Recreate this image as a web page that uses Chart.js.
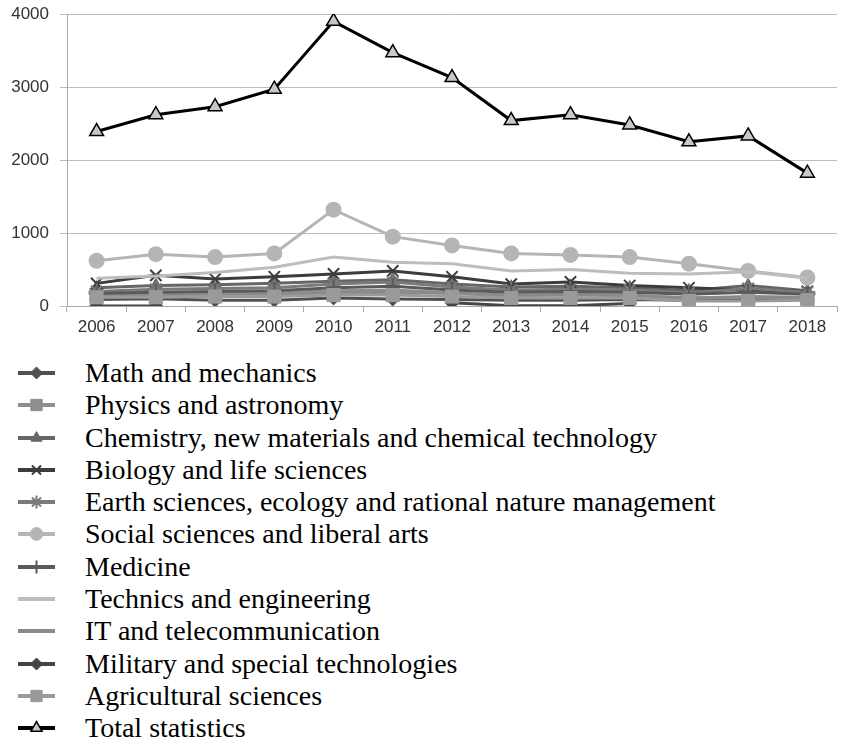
<!DOCTYPE html>
<html>
<head>
<meta charset="utf-8">
<script src="https://cdn.jsdelivr.net/npm/chart.js@4.4.0/dist/chart.umd.min.js"></script>
<style>
	html, body { margin: 0; padding: 0; background: #fff; overflow: hidden; }
	#wrap { position: relative; width: 847px; height: 345px; }
	#legend { position: absolute; left: 0; top: 357px; font-family: "Liberation Serif", serif; font-size: 28px; color: #000; }
	.row { position: relative; height: 32.3px; }
	.row canvas { position: absolute; left: 10px; top: 0; }
	.row span { position: absolute; left: 85px; top: 0; line-height: 32px; white-space: nowrap; }
</style>
</head>
<body>
<div id="wrap"><canvas id="chart"></canvas></div>
<div id="legend"></div>
<script>
const years = ["2006", "2007", "2008", "2009", "2010", "2011", "2012", "2013", "2014", "2015", "2016", "2017", "2018"];
const yTicks = [0, 1000, 2000, 3000, 4000];

const seriesNames = [
	"Math and mechanics",
	"Physics and astronomy",
	"Chemistry, new materials and chemical technology",
	"Biology and life sciences",
	"Earth sciences, ecology and rational nature management",
	"Social sciences and liberal arts",
	"Medicine",
	"Technics and engineering",
	"IT and telecommunication",
	"Military and special technologies",
	"Agricultural sciences",
	"Total statistics",
];

const mathMechanics = [90, 100, 80, 80, 110, 95, 90, 80, 80, 90, 80, 90, 90];
const physicsAstronomy = [150, 160, 170, 180, 210, 220, 180, 150, 160, 150, 110, 120, 110];
const chemistry = [250, 280, 290, 310, 340, 360, 300, 260, 270, 250, 210, 280, 210];
const biology = [310, 420, 370, 400, 440, 480, 400, 300, 330, 280, 250, 220, 200];
const earthSciences = [200, 230, 240, 250, 300, 330, 260, 220, 230, 220, 180, 240, 190];
const socialSciences = [620, 710, 670, 720, 1320, 950, 830, 720, 700, 670, 580, 480, 390];
const medicine = [170, 190, 200, 210, 250, 270, 220, 190, 200, 190, 160, 190, 160];
const technics = [380, 410, 460, 530, 670, 600, 580, 480, 500, 450, 440, 470, 380];
const itTelecom = [130, 140, 150, 150, 180, 190, 170, 140, 150, 140, 110, 130, 120];
const military = [0, 0, null, null, null, null, 45, 5, 5, 35, null, null, null];
const agricultural = [120, 120, 130, 130, 150, 150, 130, 110, 110, 110, 70, 70, 80];
const totalStats = [2390, 2620, 2730, 2970, 3900, 3470, 3130, 2540, 2620, 2480, 2250, 2330, 1820];

const seriesValues = [
	mathMechanics, physicsAstronomy, chemistry, biology, earthSciences, socialSciences,
	medicine, technics, itTelecom, military, agricultural, totalStats,
];

// look of each series (greyscale, like the original)
const lineColors = ["#505050", "#8e8e8e", "#666666", "#3c3c3c", "#7a7a7a", "#b5b5b5", "#5a5a5a", "#bdbdbd", "#8a8a8a", "#454545", "#9a9a9a", "#000000"];
const fillColors = ["#505050", "#8e8e8e", "#666666", "#3c3c3c", "#7a7a7a", "#b5b5b5", "#5a5a5a", "#bdbdbd", "#8a8a8a", "#454545", "#9a9a9a", "#c8c8c8"];
const markers = ["rectRot", "rect", "triangle", "crossRot", "star", "circle", "cross", false, false, "rectRot", "rect", "triangle"];
const markerSizes = [7.5, 10, 8, 8, 8, 8, 8, 0, 0, 7.5, 10, 8];
const markerBorders = [0, 0, 0, 2, 2, 0, 2, 0, 0, 0, 0, 1.5];

const datasets = seriesNames.map((name, i) => ({
	label: name,
	data: seriesValues[i],
	borderColor: lineColors[i],
	backgroundColor: fillColors[i],
	borderWidth: 3,
	pointStyle: markers[i],
	pointRadius: markerSizes[i],
	pointBorderWidth: markerBorders[i],
	pointBorderColor: i === 11 ? "#000" : lineColors[i],
	pointBackgroundColor: fillColors[i],
	tension: 0,
	spanGaps: false,
	order: seriesNames.length - i,
}));

const tickFont = { family: "Liberation Sans", size: 17 };

new Chart(document.getElementById("chart"), {
	type: "line",
	data: { labels: years, datasets: datasets },
	options: {
		responsive: true,
		maintainAspectRatio: false,
		animation: false,
		layout: { padding: { top: 14, right: 0, left: 0, bottom: 0 } },
		plugins: { legend: { display: false }, tooltip: { enabled: false } },
		scales: {
			x: {
				offset: true,
				afterFit: (scale) => {
					scale.height = 39;
					scale.paddingLeft = 0;
					scale.paddingRight = 0;
				},
				grid: { offset: true, drawOnChartArea: false, tickLength: 6, color: "#a8a8a8" },
				border: { color: "#a8a8a8" },
				ticks: { color: "#333", padding: 5, font: tickFont, maxRotation: 0 },
			},
			y: {
				min: 0,
				max: 4000,
				afterFit: (scale) => {
					scale.width = 67;
					scale.paddingTop = 0;
					scale.paddingBottom = 0;
				},
				afterBuildTicks: (scale) => { scale.ticks = yTicks.map((v) => ({ value: v })); },
				grid: { color: "#bdbdbd", tickLength: 7 },
				border: { color: "#a8a8a8" },
				ticks: {
					color: "#333",
					padding: 11,
					font: tickFont,
					callback: (value) => String(value),
				},
			},
		},
	},
});

// vertical legend, one row per series
const legend = document.getElementById("legend");
seriesNames.forEach((name, i) => {
	const row = document.createElement("div");
	row.className = "row";
	const c = document.createElement("canvas");
	c.width = 56;
	c.height = 32;
	const ctx = c.getContext("2d");
	ctx.strokeStyle = lineColors[i];
	ctx.lineWidth = 4;
	ctx.beginPath();
	ctx.moveTo(8, 16);
	ctx.lineTo(45, 16);
	ctx.stroke();
	if (markers[i]) {
		ctx.fillStyle = fillColors[i];
		ctx.strokeStyle = i === 11 ? "#000" : lineColors[i];
		ctx.lineWidth = markerBorders[i] || 1;
		Chart.helpers.drawPoint(ctx, {
			pointStyle: markers[i],
			radius: markerSizes[i] * 0.8,
			rotation: 0,
			borderWidth: markerBorders[i] || 1,
		}, 26.5, 16);
	}
	const label = document.createElement("span");
	label.textContent = name;
	row.appendChild(c);
	row.appendChild(label);
	legend.appendChild(row);
});
</script>
</body>
</html>
